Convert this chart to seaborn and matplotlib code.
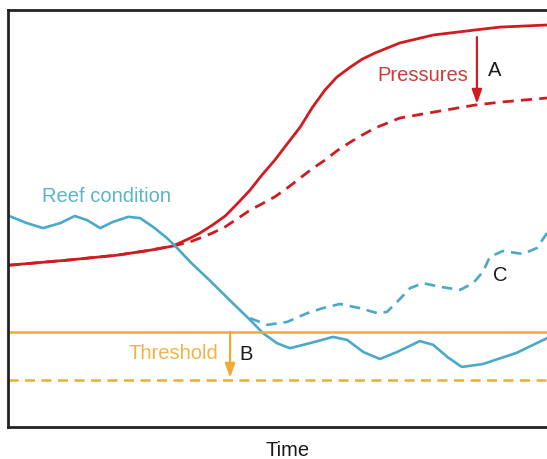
import matplotlib
matplotlib.use("Agg")
import matplotlib.pyplot as plt
import seaborn as sns

sns.set_theme(style="white")
plt.rcParams['font.family'] = ['Liberation Sans', 'DejaVu Sans']

# Time axis 0-100, level axis 0-100 (conceptual units)
press_x = [0.2, 10.9, 20.2, 26.4, 30.6, 33.8, 35.6, 37.9, 40.3, 42.5, 44.9, 47.1,
           49.5, 51.8, 54.2, 56.4, 58.8, 61.0, 63.5, 65.7, 68.1, 72.7, 78.9, 86.6,
           91.3, 100.0]
press_y = [38.8, 40.0, 41.2, 42.4, 43.4, 45.3, 46.5, 48.4, 50.6, 53.5, 56.8, 60.4,
           64.0, 67.9, 71.9, 76.5, 80.8, 83.9, 86.3, 88.2, 89.7, 92.1, 94.0, 95.2,
           95.9, 96.4]

pressd_x = [0.2, 10.9, 20.2, 26.4, 30.6, 33.8, 35.6, 37.9, 40.3, 42.5, 44.9, 47.1,
            49.5, 51.8, 54.2, 56.4, 58.8, 61.0, 63.5, 65.7, 68.1, 72.7, 78.9, 86.6,
            91.3, 100.0]
pressd_y = [38.8, 40.0, 41.2, 42.4, 43.4, 44.4, 45.3, 46.5, 48.0, 49.9, 52.0, 53.5,
            55.2, 57.3, 59.7, 61.9, 64.0, 66.2, 68.3, 70.0, 71.7, 74.1, 75.5, 77.2,
            77.9, 78.9]

reef_x = [0.2, 3.5, 6.5, 9.7, 12.4, 14.7, 17.1, 19.5, 22.3, 24.5, 26.9, 29.5, 31.4,
          33.8, 37.3, 41.7, 44.9, 47.3, 49.9, 52.3, 56.0, 60.3, 62.9, 65.9, 69.0,
          72.2, 76.4, 78.9, 81.5, 84.2, 88.1, 94.4, 100.0]
reef_y = [50.6, 48.9, 47.7, 48.9, 50.6, 49.6, 47.7, 49.2, 50.4, 50.1, 48.0, 45.3, 42.9,
          39.6, 35.3, 29.7, 25.7, 22.5, 20.1, 18.9, 20.1, 21.6, 20.9, 18.0, 16.3,
          18.0, 20.6, 19.7, 16.8, 14.4, 15.1, 17.8, 21.3]

rec_x = [44.9, 48.1, 51.8, 55.5, 58.4, 61.6, 65.3, 68.5, 70.3, 72.2, 74.6, 77.0,
         80.2, 83.9, 86.3, 88.1, 89.4, 91.8, 95.5, 98.1, 100.0]
rec_y = [26.1, 24.5, 25.2, 27.3, 28.5, 29.5, 28.5, 27.3, 27.6, 30.0, 33.3, 34.5,
         33.6, 32.9, 34.5, 37.2, 40.8, 42.2, 41.5, 42.9, 46.5]

thresh_x = [0.0, 100.0]
thresh_y = [22.8, 22.8]
thresh_new_y = [11.3, 11.3]

RED = "#d11b22"
BLUE = "#4aa9c8"
ORANGE = "#f1aa33"

fig = plt.figure(figsize=(5.47, 4.59), dpi=100)
ax = fig.add_axes([8/547, 32/459, 539/547, 417/459])

sns.lineplot(x=pressd_x, y=pressd_y, ax=ax, color=RED, lw=2.0, sort=False,
             linestyle=(0, (4, 2.6)))
sns.lineplot(x=press_x, y=press_y, ax=ax, color=RED, lw=2.0, sort=False)
sns.lineplot(x=rec_x, y=rec_y, ax=ax, color=BLUE, lw=1.9, sort=False,
             linestyle=(0, (4, 2.6)))
sns.lineplot(x=reef_x, y=reef_y, ax=ax, color=BLUE, lw=1.9, sort=False)
sns.lineplot(x=thresh_x, y=thresh_y, ax=ax, color=ORANGE, lw=1.8, sort=False)
sns.lineplot(x=thresh_x, y=thresh_new_y, ax=ax, color=ORANGE, lw=1.8, sort=False,
             linestyle=(0, (4, 2.6)))

for ln in ax.get_lines():
    ln.set_solid_joinstyle("round")
    ln.set_dash_joinstyle("round")

# arrows
ax.annotate("", xy=(87.0, 77.5), xytext=(87.0, 93.5),
            arrowprops=dict(arrowstyle="-|>,head_length=0.7,head_width=0.25",
                            color=RED, lw=1.6, shrinkA=0, shrinkB=0))
ax.annotate("", xy=(41.2, 11.8), xytext=(41.2, 22.8),
            arrowprops=dict(arrowstyle="-|>,head_length=0.7,head_width=0.25",
                            color=ORANGE, lw=1.6, shrinkA=0, shrinkB=0))

fs = 14.5
ax.text(6.3, 55.2, "Reef condition", color="#5bb3d0", fontsize=fs, ha="left", va="center")
ax.text(85.3, 84.4, "Pressures", color="#d03a3c", fontsize=fs, ha="right", va="center")
ax.text(89.0, 85.4, "A", color="#1a1a1a", fontsize=fs, ha="left", va="center")
ax.text(39.0, 17.6, "Threshold", color="#f0b345", fontsize=fs, ha="right", va="center")
ax.text(43.0, 17.3, "B", color="#1a1a1a", fontsize=fs, ha="left", va="center")
ax.text(91.3, 36.4, "C", color="#1a1a1a", fontsize=fs, ha="center", va="center")
ax.text((287.5 - 8) / 539, -(450 - 427) / 417, "Time", color="#1a1a1a", fontsize=fs,
        ha="center", va="center", transform=ax.transAxes)

ax.set_xlim(0, 100)
ax.set_ylim(0, 100)
ax.set_xticks([])
ax.set_yticks([])
ax.set_xlabel("")
ax.set_ylabel("")
for side in ["left", "top", "bottom"]:
    ax.spines[side].set_color("#222222")
    ax.spines[side].set_linewidth(2.0)
ax.spines["right"].set_visible(False)

fig.savefig("out.png", dpi=100)
